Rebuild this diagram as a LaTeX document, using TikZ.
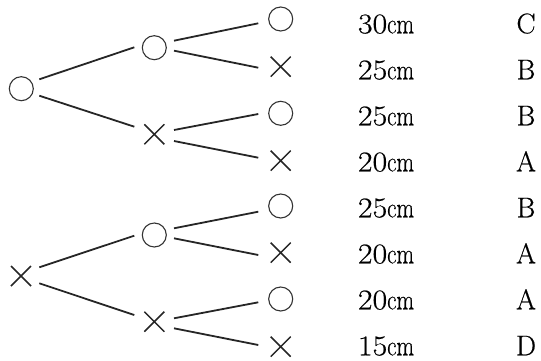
\documentclass[tikz,border=0pt]{standalone}
\usepackage{fontspec}
\setmainfont{Latin Modern Roman}[FakeBold=0.5]
\usepackage{graphicx}
\usetikzlibrary{shapes.misc,calc}
\newcommand\lenlabel[1]{\scalebox{1.12}[1]{#1}\scalebox{0.8}[1]{cm}}
\tikzset{
  yes/.style={circle,draw=black!80,line width=1.1pt,minimum size=24pt,inner sep=0pt},
  no/.style={cross out,draw=black!85,line width=1.5pt,minimum size=18.5pt,inner sep=0pt},
  edge/.style={draw=black!85,line width=1.8pt},
  txt/.style={anchor=base,inner sep=0pt,font=\fontsize{28.5}{30}\selectfont}
}
\begin{document}
\begin{tikzpicture}[x=1pt,y=-1pt]
\useasboundingbox (0,0) rectangle (541,361);
% first branch: root circle
\node[yes] (r1) at (21.3,88.7) {};
\node[yes] (a1) at (154.3,47.7) {};
\node[no]  (b1) at (154.3,134.3) {};
\node[yes] (l1) at (280.7,19) {};
\node[no]  (l2) at (280.7,66.7) {};
\node[yes] (l3) at (280.7,113.3) {};
\node[no]  (l4) at (280.7,160.7) {};
% second branch: root cross
\node[no]  (r2) at (21,276) {};
\node[yes] (a2) at (154.3,235) {};
\node[no]  (b2) at (154.3,321.7) {};
\node[yes] (l5) at (280.7,206) {};
\node[no]  (l6) at (280.7,252.7) {};
\node[yes] (l7) at (280.7,299) {};
\node[no]  (l8) at (280.7,346.7) {};
% connectors
\draw[edge] ($(r1)+(18,-9.4)$) -- ($(a1)+(-20,-0.4)$);
\draw[edge] ($(r1)+(18,7)$) -- ($(b1)+(-20,-7.6)$);
\draw[edge] ($(a1)+(19.7,-7)$) -- ($(l1)+(-22.4,4.3)$);
\draw[edge] ($(a1)+(19.7,3)$) -- ($(l2)+(-22.4,1)$);
\draw[edge] ($(b1)+(19.7,-4.3)$) -- ($(l3)+(-22.4,0.7)$);
\draw[edge] ($(b1)+(19.7,6.7)$) -- ($(l4)+(-22.4,-3)$);
\draw[edge] ($(r2)+(18.3,-8.7)$) -- ($(a2)+(-20,0.7)$);
\draw[edge] ($(r2)+(18.3,7.3)$) -- ($(b2)+(-20,-6.7)$);
\draw[edge] ($(a2)+(19.7,-6.7)$) -- ($(l5)+(-22.4,5.7)$);
\draw[edge] ($(a2)+(19.7,3.3)$) -- ($(l6)+(-22.4,2.3)$);
\draw[edge] ($(b2)+(19.7,-3.4)$) -- ($(l7)+(-22.4,3.3)$);
\draw[edge] ($(b2)+(19.7,6.6)$) -- ($(l8)+(-22.4,-1.7)$);
% lengths and grades
\foreach \n/\v/\g [count=\i from 0] in {1/30/C,2/25/B,3/25/B,4/20/A,5/25/B,6/20/A,7/20/A,8/15/D}{
  \node[txt] (len\n) at (386,33.3+46*\i) {\lenlabel{\v}};
  \node[txt] (grd\n) at (526,33.3+46*\i) {\g};
}
\end{tikzpicture}
\end{document}
